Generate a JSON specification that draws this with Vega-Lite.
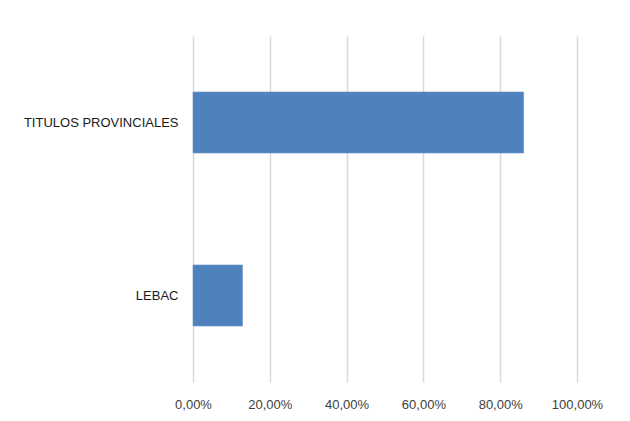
{
  "$schema": "https://vega.github.io/schema/vega-lite/v6.json",
  "autosize": {"type": "none"},
  "width": 384,
  "height": 346,
  "padding": {"left": 193, "top": 36, "right": 53, "bottom": 39},
  "background": "white",
  "config": {
    "view": {"stroke": null},
    "font": "Liberation Sans",
    "locale": {"number": {"decimal": ",", "thousands": ".", "grouping": [3], "currency": ["$", ""]}}
  },
  "data": {"values": [
    {"categoria": "TITULOS PROVINCIALES", "valor": 0.861},
    {"categoria": "LEBAC", "valor": 0.129}
  ]},
  "mark": {"type": "bar", "color": "#4f81bd", "stroke": "#6f97c9", "strokeWidth": 0.6},
  "encoding": {
    "y": {
      "field": "categoria", "type": "nominal", "sort": null,
      "scale": {"paddingInner": 0.647, "paddingOuter": 0.3235},
      "axis": {"title": null, "ticks": false, "domain": false, "labelPadding": 15, "labelFontSize": 13, "labelColor": "#1a1a1a", "labelFont": "Liberation Sans"}
    },
    "x": {
      "field": "valor", "type": "quantitative",
      "scale": {"domain": [0, 1], "nice": false},
      "axis": {"title": null, "format": ".2%", "values": [0, 0.2, 0.4, 0.6, 0.8, 1], "labelOverlap": false, "labelFlush": false, "labelBound": false, "ticks": false, "domain": false, "grid": true, "gridColor": "#d9d9d9", "gridWidth": 1.5, "labelPadding": 16, "labelFontSize": 13, "labelColor": "#404040", "labelFont": "Liberation Sans"}
    }
  }
}
